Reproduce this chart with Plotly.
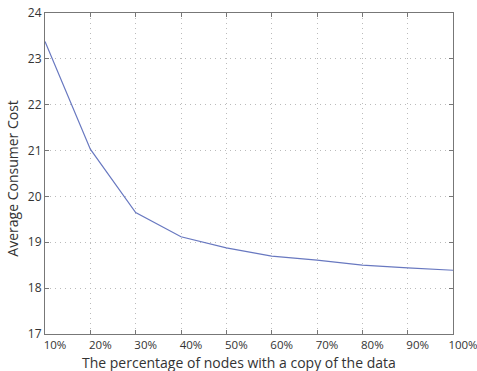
import plotly.graph_objects as go

x_pct = [10, 20, 30, 40, 50, 60, 70, 80, 90, 100]
tick_labels = ["10%", "20%", "30%", "40%", "50%", "60%", "70%", "80%", "90%", "100%"]
avg_cost = [23.38, 21.03, 19.65, 19.12, 18.88, 18.70, 18.61, 18.50, 18.44, 18.39]
x_title = "The percentage of nodes with a copy of the data"
y_title = "Average Consumer Cost"

font_family = "Open Sans, Noto Sans, sans-serif"
txt = "#333333"

fig = go.Figure()
fig.add_trace(go.Scatter(
    x=x_pct, y=avg_cost, mode="lines",
    line=dict(color="#6878c0", width=1.2),
    showlegend=False,
))

fig.update_layout(
    width=477, height=371,
    margin=dict(l=45, r=24, t=13, b=37, autoexpand=False),
    paper_bgcolor="white", plot_bgcolor="white",
    font=dict(family=font_family, color=txt, size=12),
)
fig.update_xaxes(
    range=[10, 100], tickvals=x_pct, ticktext=tick_labels,
    showgrid=True, gridcolor="#bbbbbb", griddash="1px,4px", gridwidth=1,
    showline=True, linecolor="#777777", linewidth=1, mirror="ticks",
    ticks="inside", ticklen=4, tickcolor="#777777",
    ticklabelshift=10, ticklabeloverflow="allow",
    tickfont=dict(size=11.5, color=txt),
    zeroline=False, automargin=False,
)
fig.update_yaxes(
    range=[17, 24], dtick=1,
    showgrid=True, gridcolor="#bbbbbb", griddash="1px,4px", gridwidth=1,
    showline=True, linecolor="#777777", linewidth=1, mirror="ticks",
    ticks="inside", ticklen=4, tickcolor="#777777",
    ticklabeloverflow="allow",
    tickfont=dict(size=12, color=txt),
    zeroline=False, automargin=False,
)
fig.add_annotation(
    text=x_title, xref="paper", yref="paper", x=0.475, y=0,
    xanchor="center", yanchor="middle", yshift=-28, showarrow=False,
    font=dict(size=14, color=txt),
)
fig.add_annotation(
    text=y_title, xref="paper", yref="paper", x=0, y=0.484,
    xanchor="center", yanchor="middle", xshift=-32, textangle=-90,
    showarrow=False, font=dict(size=14, color=txt),
)

# remove the browser's default 8px page margin so the figure fills the window exactly
fig.write_html(
    "out.html",
    config={"displayModeBar": False},
    post_script="document.body.style.margin='0';document.body.style.overflow='hidden';",
)
